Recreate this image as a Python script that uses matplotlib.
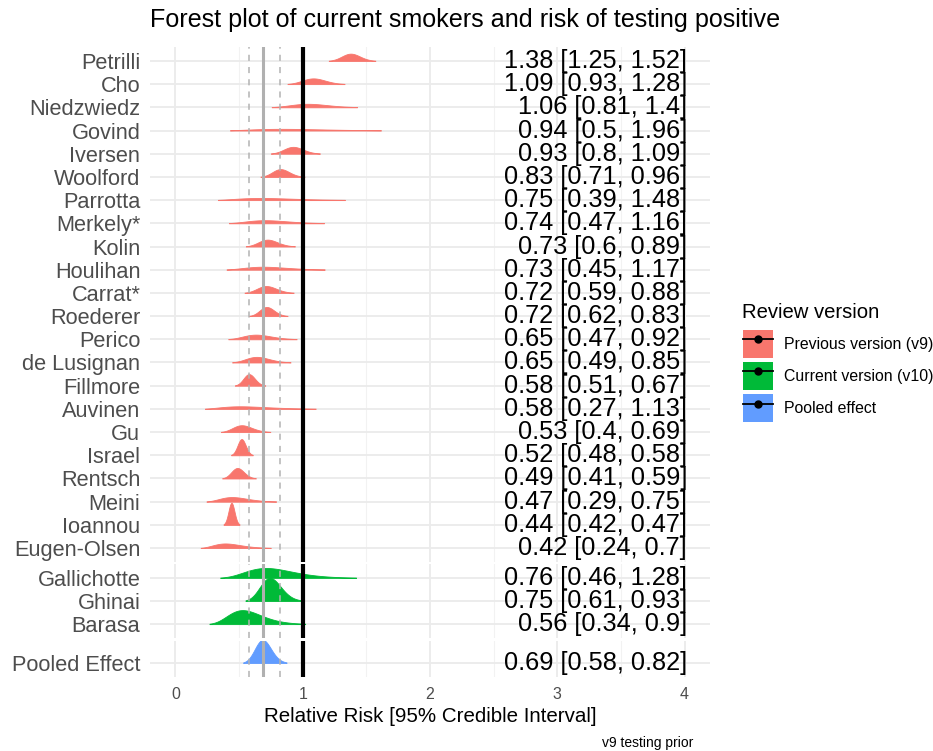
import numpy as np
import matplotlib
matplotlib.use("Agg")
import matplotlib.pyplot as plt
from matplotlib.patches import Patch
from matplotlib.lines import Line2D
from matplotlib.legend_handler import HandlerTuple

plt.rcParams['font.family'] = ['Liberation Sans', 'DejaVu Sans']

# ---------------- data ----------------
v9_studies = ["Petrilli", "Cho", "Niedzwiedz", "Govind", "Iversen", "Woolford",
              "Parrotta", "Merkely*", "Kolin", "Houlihan", "Carrat*", "Roederer",
              "Perico", "de Lusignan", "Fillmore", "Auvinen", "Gu", "Israel",
              "Rentsch", "Meini", "Ioannou", "Eugen-Olsen"]
v9_est = [1.38, 1.09, 1.06, 0.94, 0.93, 0.83, 0.75, 0.74, 0.73, 0.73, 0.72, 0.72,
          0.65, 0.65, 0.58, 0.58, 0.53, 0.52, 0.49, 0.47, 0.44, 0.42]
v9_lo = [1.25, 0.93, 0.81, 0.5, 0.8, 0.71, 0.39, 0.47, 0.6, 0.45, 0.59, 0.62,
         0.47, 0.49, 0.51, 0.27, 0.4, 0.48, 0.41, 0.29, 0.42, 0.24]
v9_hi = [1.52, 1.28, 1.4, 1.96, 1.09, 0.96, 1.48, 1.16, 0.89, 1.17, 0.88, 0.83,
         0.92, 0.85, 0.67, 1.13, 0.69, 0.58, 0.59, 0.75, 0.47, 0.7]

v10_studies = ["Gallichotte", "Ghinai", "Barasa"]
v10_est = [0.76, 0.75, 0.56]
v10_lo = [0.46, 0.61, 0.34]
v10_hi = [1.28, 0.93, 0.9]

pooled_label = ["Pooled Effect"]
pooled_est = [0.69]
pooled_lo = [0.58]
pooled_hi = [0.82]

x_ticks = [0, 1, 2, 3, 4]
legend_labels = ["Previous version (v9)", "Current version (v10)", "Pooled effect"]
colors = ["#F8766D", "#00BA38", "#619CFF"]

title = "Forest plot of current smokers and risk of testing positive"
xlabel = "Relative Risk [95% Credible Interval]"
caption = "v9 testing prior"
legend_title = "Review version"

# ---------------- figure ----------------
W, H = 933, 751
fig = plt.figure(figsize=(W / 100, H / 100), dpi=100)


def add_ax(top, bottom, left=150, right=710):
    return fig.add_axes([left / W, 1 - bottom / H, (right - left) / W, (bottom - top) / H])


ax1 = add_ax(47, 562)
ax2 = add_ax(564, 638)
ax3 = add_ax(641, 677)

grid = np.linspace(0.005, 3.5, 7000)
dx = grid[1] - grid[0]
bw = 0.02
kx = np.arange(-5 * bw, 5 * bw + dx / 2, dx)
kern = np.exp(-0.5 * (kx / bw) ** 2)
kern /= kern.sum()


def ridge(est, lo, hi):
    s = (np.log(hi) - np.log(lo)) / (2 * 1.959964)
    mu = np.log(est)
    pdf = np.exp(-0.5 * ((np.log(grid) - mu) / s) ** 2) / (grid * s * np.sqrt(2 * np.pi))
    return np.convolve(pdf, kern, mode="same")


def fmt(v):
    return f"{v:g}"


def draw_panel(ax, names, est, lo, hi, color, scale, ylim, show_x=False):
    n = len(names)
    ys = np.arange(n)[::-1]
    dens = [ridge(e, l, h) for e, l, h in zip(est, lo, hi)]
    mx = max(d.max() for d in dens)
    for y, d in zip(ys, dens):
        hs_all = d / mx * scale
        cut = max(0.03 * hs_all.max(), 0.012)
        idx = np.where(hs_all >= cut)[0]
        xs = grid[idx[0]:idx[-1] + 1]
        hs = hs_all[idx[0]:idx[-1] + 1]
        ax.fill_between(xs, y, y + hs, facecolor=color, edgecolor=color,
                        linewidth=0.6, zorder=2)
    for y, e, l, h in zip(ys, est, lo, hi):
        ax.text(4.02, y, f"{fmt(e)} [{fmt(l)}, {fmt(h)}]", ha="right", va="center",
                fontsize=18.3, color="black", zorder=5)
    # reference lines
    ax.axvline(pooled_est[0], color="#B0B0B0", lw=2.2, zorder=3)
    ax.axvline(pooled_lo[0], color="#B3B3B3", lw=1.1, ls=(0, (4, 4)), zorder=3)
    ax.axvline(pooled_hi[0], color="#B3B3B3", lw=1.1, ls=(0, (4, 4)), zorder=3)
    ax.axvline(1, color="black", lw=3, zorder=4)

    ax.set_xlim(-0.2, 4.2)
    ax.set_ylim(*ylim)
    ax.set_yticks(ys)
    ax.set_yticklabels(names, fontsize=15.7, color="#4D4D4D")
    ax.set_xticks(x_ticks)
    ax.set_xticks([0.5, 1.5, 2.5, 3.5], minor=True)
    ax.grid(True, which="major", color="#EBEBEB", lw=1.3)
    ax.grid(True, which="minor", axis="x", color="#F2F2F2", lw=0.8)
    ax.set_axisbelow(True)
    ax.tick_params(axis="both", which="both", length=0)
    ax.tick_params(axis="y", pad=7)
    if show_x:
        ax.set_xticklabels([str(t) for t in x_ticks], fontsize=11.5, color="#4D4D4D")
        ax.tick_params(axis="x", pad=7)
    else:
        ax.set_xticklabels([])
    for sp in ax.spines.values():
        sp.set_visible(False)
    ax.set_facecolor("white")


draw_panel(ax1, v9_studies, v9_est, v9_lo, v9_hi, colors[0], 0.95, (-0.6, len(v9_studies) - 0.4))
draw_panel(ax2, v10_studies, v10_est, v10_lo, v10_hi, colors[1], 1.0, (-0.6, len(v10_studies) - 0.4))
draw_panel(ax3, pooled_label, pooled_est, pooled_lo, pooled_hi, colors[2], 1.0, (-0.6, 0.95), show_x=True)

fig.text(150 / W, 1 - 20 / H, title, ha="left", va="center", fontsize=18.1, color="black")
fig.text(430 / W, 1 - 717 / H, xlabel, ha="center", va="center", fontsize=14.8, color="black")
fig.text(693 / W, 1 - 743 / H, caption, ha="right", va="center", fontsize=10, color="black")

# legend (title drawn separately for precise placement)
fig.text(742 / W, 1 - 312 / H, legend_title, ha="left", va="center", fontsize=14.6, color="black")
handles = [(Patch(facecolor=c, edgecolor="none"),
            Line2D([], [], color="black", lw=1.3, marker="o", markersize=5))
           for c in colors]
leg = fig.legend(handles, legend_labels,
                 handler_map={tuple: HandlerTuple(ndivide=1, pad=0)},
                 loc="upper left", bbox_to_anchor=(743 / W, 1 - 330 / H),
                 frameon=False, fontsize=11.4,
                 handlelength=1.9, handleheight=2.35, labelspacing=0.25,
                 handletextpad=0.7, borderpad=0, borderaxespad=0)

fig.savefig("out.png", dpi=100, facecolor="white")
